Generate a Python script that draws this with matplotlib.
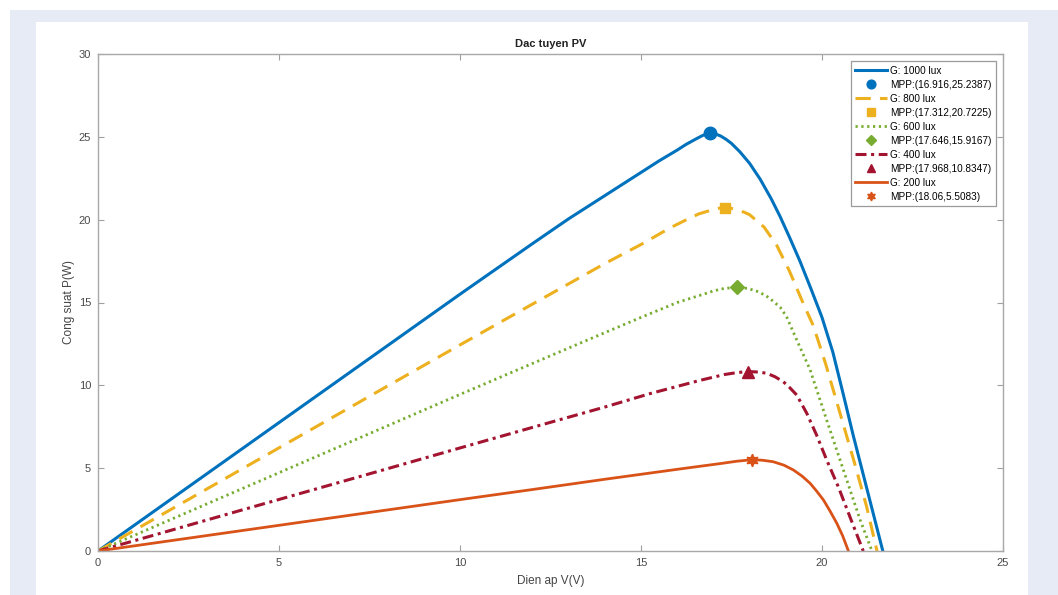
import numpy as np
import matplotlib.pyplot as plt
from matplotlib.patches import Rectangle

plt.rcParams['font.family'] = ['Liberation Sans', 'DejaVu Sans']

# values
v_1000 = [0, 2, 4, 6, 8, 10, 12, 13, 14, 15, 15.5, 16.0, 16.25, 16.5, 16.7, 16.916, 17.05, 17.2, 17.35, 17.5,
          17.73, 18.0, 18.29, 18.6, 18.84, 19.1, 19.39, 19.7, 20.0, 20.3, 20.6, 20.86, 21.2, 21.68]
p_1000 = [0, 3.1, 6.2, 9.3, 12.4, 15.5, 18.55, 20.05, 21.45, 22.85, 23.55, 24.2, 24.55, 24.85, 25.08, 25.2387, 25.18,
          25.05, 24.85, 24.6, 24.1, 23.4, 22.45, 21.25, 20.2, 18.95, 17.5, 15.8, 14.1, 12.0, 9.35, 7.0, 4.1, 0]

v_800 = [0, 2, 4, 6, 8, 10, 12, 14, 15, 15.8, 16.35, 16.6, 16.9, 17.1, 17.312, 17.5, 17.7, 17.85, 18.0, 18.4,
         18.75, 19.1, 19.48, 19.76, 20.1, 20.5, 20.9, 21.23, 21.52]
p_800 = [0, 2.49, 4.98, 7.47, 9.96, 12.44, 14.9, 17.35, 18.5, 19.5, 20.1, 20.35, 20.55, 20.68, 20.7225, 20.68, 20.55,
         20.45, 20.3, 19.55, 18.45, 16.9, 14.95, 13.6, 11.3, 8.3, 5.3, 2.7, 0]

v_600 = [0, 2, 4, 6, 8, 10, 12, 14, 15, 16, 16.9, 17.0, 17.3, 17.646, 17.95, 18.2, 18.45, 18.65, 18.85, 19.02,
         19.3, 19.67, 20.13, 20.59, 21.05, 21.38]
p_600 = [0, 1.89, 3.78, 5.67, 7.56, 9.45, 11.32, 13.18, 14.1, 15.0, 15.62, 15.7, 15.85, 15.9167, 15.85, 15.68, 15.42,
         15.08, 14.7, 14.15, 12.75, 10.95, 7.9, 4.9, 1.9, 0]

v_400 = [0, 2, 4, 6, 8, 10, 12, 14, 15.25, 16.63, 17.3, 17.65, 17.968, 18.25, 18.47, 18.7, 18.93, 19.1, 19.3,
         19.58, 19.85, 20.13, 20.45, 20.77, 21.14]
p_400 = [0, 1.24, 2.49, 3.73, 4.97, 6.22, 7.46, 8.69, 9.5, 10.3, 10.65, 10.77, 10.8347, 10.8, 10.73, 10.52, 10.22,
         9.88, 9.42, 8.31, 7.0, 5.49, 3.88, 2.07, 0]

v_200 = [0, 2, 4, 6, 8, 10, 12, 14, 16, 17.2, 17.65, 18.06, 18.35, 18.65, 18.95, 19.21, 19.45, 19.67, 19.85,
         20.04, 20.22, 20.41, 20.57, 20.73]
p_200 = [0, 0.62, 1.24, 1.86, 2.48, 3.1, 3.71, 4.33, 4.93, 5.28, 5.42, 5.5083, 5.48, 5.39, 5.18, 4.89, 4.52, 4.09,
         3.62, 3.08, 2.42, 1.67, 0.92, 0]

mpp_v = [16.916, 17.312, 17.646, 17.968, 18.06]
mpp_p = [25.2387, 20.7225, 15.9167, 10.8347, 5.5083]
g_labels = ['1000', '800', '600', '400', '200']

fig = plt.figure(figsize=(10.58, 5.95), dpi=100)
fig.patch.set_facecolor('white')
W, H = 1058, 595
fig.patches.append(Rectangle((10 / W, 0), 1 - 10 / W, 1 - 10 / H, transform=fig.transFigure,
                             facecolor='#e7ebf6', edgecolor='none', zorder=-2))
fig.patches.append(Rectangle((36 / W, 0), (1028 - 36) / W, 1 - 22 / H, transform=fig.transFigure,
                             facecolor='white', edgecolor='none', zorder=-1))

ax = fig.add_axes([98 / W, 44 / H, (1003 - 98) / W, (551 - 54) / H])

curves = [(v_1000, p_1000), (v_800, p_800), (v_600, p_600), (v_400, p_400), (v_200, p_200)]
colors = ['#0072BD', '#EDB120', '#77AC30', '#A2142F', '#D95319']
styles = ['-', (0, (5, 3)), (0, (0.8, 1.3)), (0, (3.6, 1.5, 1, 1.5)), '-']
widths = [2.2, 2.2, 2.0, 2.2, 2.0]
markers = ['o', 's', 'D', '^', (6, 1, 0)]
msizes = [9, 7.5, 7.5, 9, 9]

for i, (v, p) in enumerate(curves):
    ax.plot(v, p, color=colors[i], ls=styles[i], lw=widths[i], label='G: ' + g_labels[i] + ' lux')
    ax.plot(mpp_v[i], mpp_p[i], ls='none', marker=markers[i], ms=msizes[i], color=colors[i],
            label='MPP:(' + str(mpp_v[i]) + ',' + str(mpp_p[i]) + ')')

ax.set_xlim(0, 25)
ax.set_ylim(0, 30)
ax.set_xticks(np.arange(0, 26, 5))
ax.set_yticks(np.arange(0, 31, 5))
ax.tick_params(direction='in', length=4, width=0.8, top=True, right=True,
               colors='#a0a0a0', labelcolor='#4a4a4a', labelsize=8, pad=5)
for s in ax.spines.values():
    s.set_color('#a8a8a8')
    s.set_linewidth(1.0)

ax.set_title('Dac tuyen PV', fontsize=8, fontweight='bold', color='#222222', pad=5)
ax.set_xlabel('Dien ap V(V)', fontsize=8.5, color='#444444', labelpad=5)
ax.set_ylabel('Cong suat P(W)', fontsize=8.5, color='#444444', labelpad=3)

leg = ax.legend(loc='upper right', fontsize=7.2, frameon=True, fancybox=False, framealpha=1,
                edgecolor='#9a9a9a', handlelength=3.2, handletextpad=0.3, labelspacing=0.4,
                borderpad=0.45, borderaxespad=0.7, markerscale=0.7)
leg.get_frame().set_linewidth(0.9)

fig.savefig('out.png', dpi=100)
